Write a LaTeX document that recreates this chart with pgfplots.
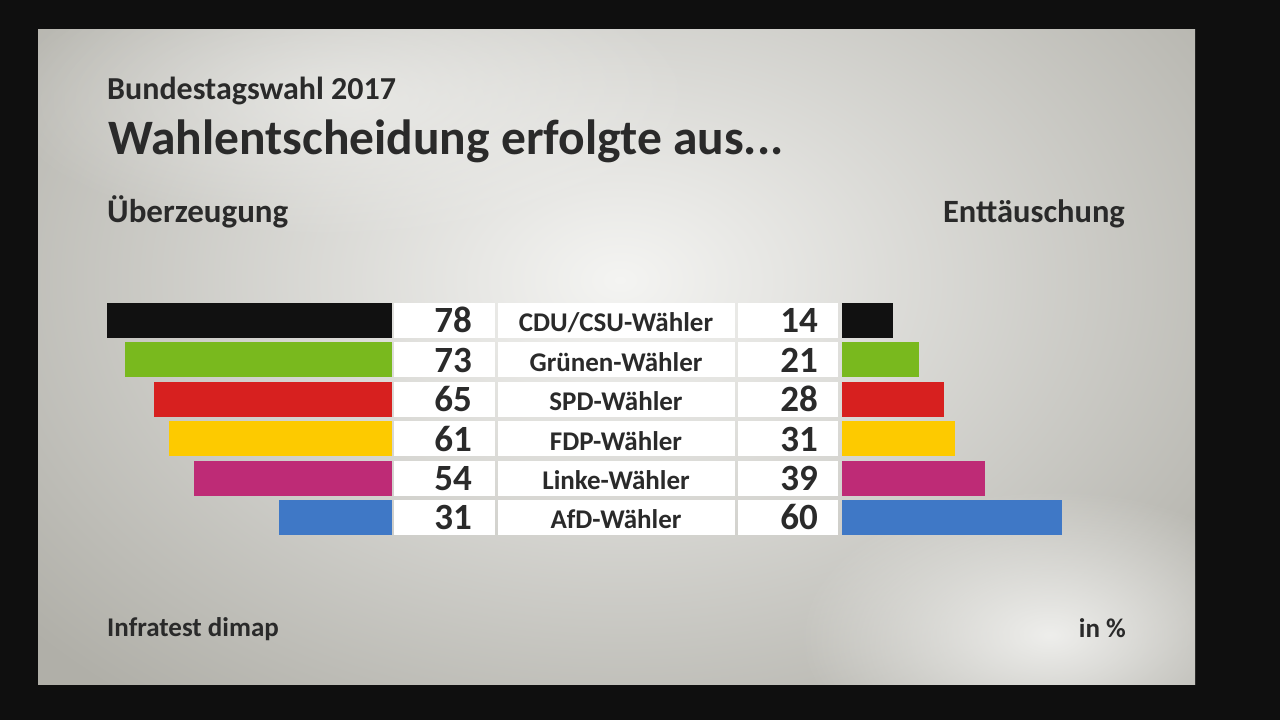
\documentclass[border=0pt]{standalone}
\usepackage{pgfplots}
\pgfplotsset{compat=1.18}
\usepackage{pgfplotstable}
\usetikzlibrary{fadings}
\tikzfading[name=softspot, inner color=transparent!0, outer color=transparent!100]
\usepackage{fontspec}
\setmainfont{Carlito}
\definecolor{txt}{HTML}{2A2A2A}
\definecolor{cdu}{HTML}{111111}
\definecolor{gruen}{HTML}{79B91E}
\definecolor{spd}{HTML}{D7201F}
\definecolor{fdp}{HTML}{FDCA00}
\definecolor{linke}{HTML}{BE2B76}
\definecolor{afd}{HTML}{3F78C6}
\definecolor{panelin}{HTML}{F4F4F2}
\definecolor{panelout}{HTML}{B0AFA8}

\pgfplotstableread{
y left right label
0 78 14 CDU/CSU-Wähler
1 73 21 Grünen-Wähler
2 65 28 SPD-Wähler
3 61 31 FDP-Wähler
4 54 39 Linke-Wähler
5 31 60 AfD-Wähler
}\data

\pgfplotsset{
  rowaxis/.style={
    scale only axis, hide axis, clip=false,
    xmin=0, xmax=80, width=292.8pt,
    ymin=-0.5, ymax=5.5, y dir=reverse, height=236.4pt,
    enlargelimits=false,
  },
  hb/.style={xbar, bar width=35pt, bar shift=0pt, draw=none, fill=#1},
}

\begin{document}
\begin{tikzpicture}[x=1pt,y=1pt]
\fill[black!94] (0pt,0pt) rectangle (1280pt,720pt);
\begin{scope}
  \clip (38pt,35pt) rectangle (1195pt,690pt);
  \shade[inner color=panelin, outer color=panelout] (-160pt,-100pt) rectangle (1400pt,980pt);
  \fill[panelin, path fading=softspot, fill opacity=0.9] (800pt,-60pt) rectangle (1300pt,230pt);
  \fill[panelin, path fading=softspot, fill opacity=0.6] (0pt,480pt) rectangle (700pt,760pt);
\end{scope}

% white table cells
\foreach \i in {0,...,5}{
  \pgfmathsetmacro{\yt}{417-39.4*\i}
  \pgfmathsetmacro{\yb}{\yt-35}
  \fill[white] (394pt,\yt pt) rectangle (495pt,\yb pt);
  \fill[white] (498pt,\yt pt) rectangle (735pt,\yb pt);
  \fill[white] (738pt,\yt pt) rectangle (838pt,\yb pt);
}

% texts
\node[anchor=base west, inner sep=0, text=txt, font=\fontsize{32}{36}\selectfont\bfseries] at (107pt,620pt) {Bundestagswahl 2017};
\node[anchor=base west, inner sep=0, text=txt, font=\fontsize{49.5}{54}\selectfont\bfseries] at (108pt,565pt) {Wahlentscheidung erfolgte aus...};
\node[anchor=base west, inner sep=0, text=txt, font=\fontsize{33}{36}\selectfont\bfseries] at (107pt,497pt) {Überzeugung};
\node[anchor=base east, inner sep=0, text=txt, font=\fontsize{32.5}{36}\selectfont\bfseries] at (1125pt,497pt) {Enttäuschung};
\node[anchor=base west, inner sep=0, text=txt, font=\fontsize{27}{30}\selectfont\bfseries] at (107pt,83pt) {Infratest dimap};
\node[anchor=base east, inner sep=0, text=txt, font=\fontsize{27}{30}\selectfont\bfseries] at (1126pt,82pt) {in \%};

% left axis: Ueberzeugung
\begin{axis}[rowaxis, x dir=reverse, anchor=north east, at={(392pt,419.2pt)}]
\addplot[hb=cdu] coordinates {(78,0)};
\addplot[hb=gruen] coordinates {(73,1)};
\addplot[hb=spd] coordinates {(65,2)};
\addplot[hb=fdp] coordinates {(61,3)};
\addplot[hb=linke] coordinates {(54,4)};
\addplot[hb=afd] coordinates {(31,5)};
\addplot[only marks, mark=none, nodes near coords, point meta=explicit symbolic,
  every node near coord/.style={anchor=base east, inner sep=0pt, xshift=80pt, yshift=-12.5pt,
    text=txt, font=\fontsize{37}{40}\selectfont\bfseries}]
  table[x expr=0, y=y, meta=left] {\data};
\end{axis}

% right axis: Enttaeuschung
\begin{axis}[rowaxis, anchor=north west, at={(842pt,419.2pt)}]
\addplot[hb=cdu] coordinates {(14,0)};
\addplot[hb=gruen] coordinates {(21,1)};
\addplot[hb=spd] coordinates {(28,2)};
\addplot[hb=fdp] coordinates {(31,3)};
\addplot[hb=linke] coordinates {(39,4)};
\addplot[hb=afd] coordinates {(60,5)};
\addplot[only marks, mark=none, nodes near coords, point meta=explicit symbolic,
  every node near coord/.style={anchor=base east, inner sep=0pt, xshift=-24pt, yshift=-12.5pt,
    text=txt, font=\fontsize{37}{40}\selectfont\bfseries}]
  table[x expr=0, y=y, meta=right] {\data};
\addplot[only marks, mark=none, nodes near coords, point meta=explicit symbolic,
  every node near coord/.style={anchor=base, inner sep=0pt, xshift=-226pt, yshift=-11.5pt,
    text=txt, font=\fontsize{27}{30}\selectfont\bfseries}]
  table[x expr=0, y=y, meta=label] {\data};
\end{axis}
\pgfresetboundingbox
\useasboundingbox (0pt,0pt) rectangle (1280pt,720pt);
\end{tikzpicture}
\end{document}
